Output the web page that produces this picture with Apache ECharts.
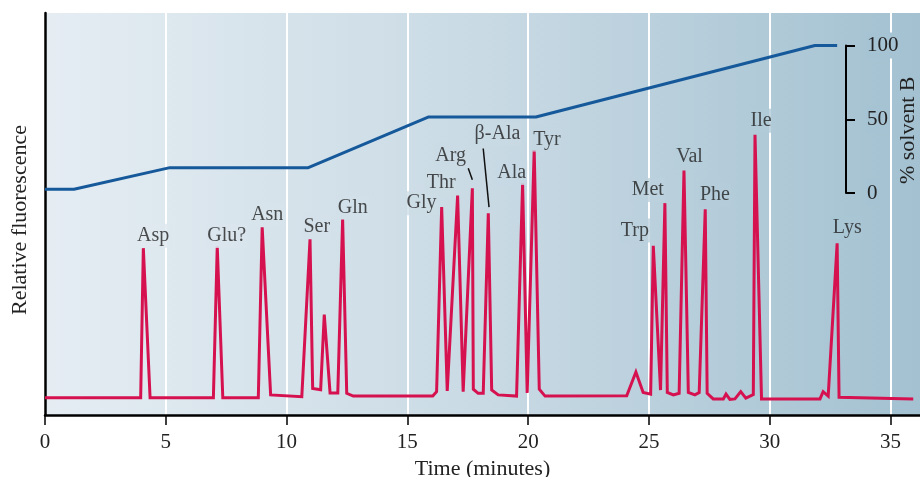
<!DOCTYPE html>
<html>
<head>
<meta charset="utf-8">
<script src="https://cdn.jsdelivr.net/npm/echarts@6/dist/echarts.min.js"></script>
<style>
html,body{margin:0;padding:0;background:#fff;}
#chart{width:920px;height:477px;}
</style>
</head>
<body>
<div id="chart"></div>
<script>
// ---- data ----
const xTickValues = [0, 5, 10, 15, 20, 25, 30, 35];
const solventTicks = [0, 50, 100];

const fluorTime = [0, 3.96, 4.07, 4.35, 6.97, 7.13, 7.36, 8.83, 8.99, 9.34, 10.63, 10.97, 11.08, 11.41, 11.56, 11.80, 12.12, 12.32, 12.49, 12.76, 16.05, 16.21, 16.42, 16.65, 17.08, 17.31, 17.69, 17.73, 17.93, 18.14, 18.35, 18.49, 18.76, 19.52, 19.77, 19.96, 20.25, 20.46, 20.70, 24.08, 24.46, 24.76, 25.07, 25.18, 25.48, 25.66, 25.76, 26.01, 26.25, 26.45, 26.63, 26.90, 27.08, 27.33, 27.41, 27.66, 28.08, 28.19, 28.35, 28.56, 28.80, 29.01, 29.32, 29.39, 29.66, 32.08, 32.21, 32.42, 32.79, 32.87, 35.94];
const fluorValue = [4.3, 4.3, 41.5, 4.3, 4.3, 41.9, 4.3, 4.3, 46.7, 5.0, 4.55, 43.7, 6.6, 6.3, 25.0, 5.5, 5.5, 48.7, 5.4, 4.7, 4.7, 5.8, 51.7, 6.0, 54.6, 5.8, 56.4, 6.4, 5.4, 5.4, 50.2, 6.2, 5.0, 4.7, 57.6, 5.5, 65.9, 6.4, 4.7, 4.8, 10.7, 5.6, 5.2, 42.1, 6.2, 52.7, 5.6, 5.0, 5.4, 60.8, 5.6, 5.0, 5.6, 51.2, 5.4, 4.0, 4.0, 5.2, 3.9, 4.0, 5.8, 4.2, 5.1, 69.7, 4.0, 4.0, 5.8, 4.7, 42.7, 4.4, 4.0];

const solventTime = [0, 1.2, 5.17, 10.9, 15.86, 20.32, 31.87, 32.79];
const solventPct = [2.5, 2.5, 17.2, 17.2, 51.5, 51.5, 100, 100];

const peakNames = ['Asp', 'Glu?', 'Asn', 'Ser', 'Gln', 'Gly', 'Thr', 'Arg', 'β-Ala', 'Ala', 'Tyr', 'Trp', 'Met', 'Val', 'Phe', 'Ile', 'Lys'];
const labelTime = [4.48, 7.52, 9.20, 11.25, 12.74, 15.59, 16.40, 16.79, 18.73, 19.32, 20.78, 24.42, 24.95, 26.68, 27.73, 29.64, 33.21];
const labelValue = [44.6, 44.5, 49.9, 46.8, 51.6, 52.7, 57.8, 64.6, 69.9, 60.2, 68.5, 45.9, 56.0, 64.2, 54.8, 73.2, 46.6];

// leader lines (Arg, β-Ala)
const leaderStart = [[17.52, 61.4], [18.14, 66.3]];
const leaderEnd = [[17.69, 58.5], [18.38, 51.7]];

// ---- chart ----
const FONT = 'Liberation Serif';
const TXT = '#222';
const PLOT_LEFT = 45;
const PLOT_WIDTH = 875;          // 0 .. X_MAX minutes
const X_MAX = 36.22;
const SOLV_RIGHT = 74;           // solvent axis sits 74px from right edge
const X2_MAX = X_MAX * (PLOT_WIDTH - SOLV_RIGHT) / PLOT_WIDTH;

const BG_STOPS = [
  {offset: 0, color: [229, 237, 243]},
  {offset: 0.5, color: [201, 218, 228]},
  {offset: 1, color: [163, 193, 209]}
];
const hex = c => 'rgb(' + c.map(v => Math.round(v)).join(',') + ')';
// colour of the background gradient at fraction f of the plot width
function bgAt(f) {
  f = Math.max(0, Math.min(1, f));
  for (let i = 1; i < BG_STOPS.length; i++) {
    const a = BG_STOPS[i - 1], b = BG_STOPS[i];
    if (f <= b.offset) {
      const k = (f - a.offset) / (b.offset - a.offset);
      return hex(a.color.map((v, j) => v + (b.color[j] - v) * k));
    }
  }
  return hex(BG_STOPS[BG_STOPS.length - 1].color);
}

const chart = echarts.init(document.getElementById('chart'), null, {renderer: 'canvas'});

const option = {
  animation: false,
  textStyle: {fontFamily: FONT},
  grid: [
    {
      left: PLOT_LEFT, right: 0, top: 13, bottom: 62,
      outerBoundsMode: 'none', containLabel: false,
      show: true, borderWidth: 0,
      backgroundColor: {
        type: 'linear', x: 0, y: 0, x2: 1, y2: 0,
        colorStops: BG_STOPS.map(s => ({offset: s.offset, color: hex(s.color)}))
      }
    },
    {left: PLOT_LEFT, right: SOLV_RIGHT, top: 45.5, bottom: 284, show: false,
     outerBoundsMode: 'none', containLabel: false}
  ],
  xAxis: [
    {
      type: 'value', gridIndex: 0, min: 0, max: X_MAX,
      axisLine: {show: true, onZero: false, lineStyle: {color: '#000', width: 2.5}},
      axisTick: {show: true, length: 10, lineStyle: {color: '#000', width: 1.5}, customValues: xTickValues},
      axisLabel: {show: true, fontSize: 21, color: TXT, margin: 17, fontFamily: FONT, customValues: xTickValues},
      splitLine: {show: true, lineStyle: {color: '#ffffff', width: 2}},
      name: 'Time (minutes)', nameLocation: 'middle', nameGap: 40,
      nameTextStyle: {fontSize: 22, color: TXT, fontFamily: FONT}
    },
    {type: 'value', gridIndex: 1, min: 0, max: X2_MAX, show: false}
  ],
  yAxis: [
    {
      type: 'value', gridIndex: 0, min: 0, max: 100,
      axisLine: {show: true, onZero: false, lineStyle: {color: '#000', width: 2.5}},
      axisTick: {show: false}, axisLabel: {show: false}, splitLine: {show: false},
      name: 'Relative fluorescence', nameLocation: 'middle', nameGap: 14,
      nameTextStyle: {fontSize: 22, color: TXT, fontFamily: FONT, padding: [0, 12, 0, 0]}
    },
    {
      type: 'value', gridIndex: 1, min: 0, max: 100, interval: 50,
      position: 'right', offset: 0,
      axisLine: {show: true, onZero: false, lineStyle: {color: '#000', width: 2}},
      axisTick: {show: true, length: 9, lineStyle: {color: '#000', width: 2}},
      axisLabel: {show: true, fontSize: 21, color: TXT, margin: 20, fontFamily: FONT,
                  backgroundColor: bgAt((881 - PLOT_LEFT) / PLOT_WIDTH), padding: [3, 1, 2, 1]},
      splitLine: {show: false},
      name: '% solvent B', nameLocation: 'middle', nameGap: 51, nameMoveOverlap: false,
      nameTextStyle: {fontSize: 22, color: TXT, fontFamily: FONT, padding: [0, 22, 0, 0]}
    }
  ],
  series: [
    {
      type: 'line', xAxisIndex: 1, yAxisIndex: 1,
      data: solventTime.map((t, i) => [t, solventPct[i]]),
      showSymbol: false, symbol: 'none', clip: false,
      lineStyle: {color: '#16599b', width: 3},
      z: 3
    },
    {
      type: 'line', xAxisIndex: 0, yAxisIndex: 0,
      data: fluorTime.map((t, i) => [t, fluorValue[i]]),
      showSymbol: false, symbol: 'none',
      lineStyle: {color: '#d6114f', width: 3, join: 'miter', miterLimit: 4},
      z: 4
    },
    {
      type: 'lines', coordinateSystem: 'cartesian2d', xAxisIndex: 0, yAxisIndex: 0,
      data: leaderStart.map((s, i) => ({coords: [s, leaderEnd[i]]})),
      lineStyle: {color: '#111', width: 1.5, opacity: 1},
      z: 5
    },
    {
      type: 'scatter', xAxisIndex: 0, yAxisIndex: 0,
      data: labelTime.map((t, i) => ({
        value: [t, labelValue[i]],
        name: peakNames[i],
        label: {backgroundColor: bgAt(t / X_MAX)}
      })),
      symbolSize: 0,
      label: {
        show: true, position: 'inside',
        formatter: p => p.name,
        fontSize: 20, color: TXT, fontFamily: FONT,
        align: 'center', verticalAlign: 'middle',
        padding: [3, 1, 1, 1]
      },
      z: 6
    }
  ]
};

chart.setOption(option);
</script>
</body>
</html>
